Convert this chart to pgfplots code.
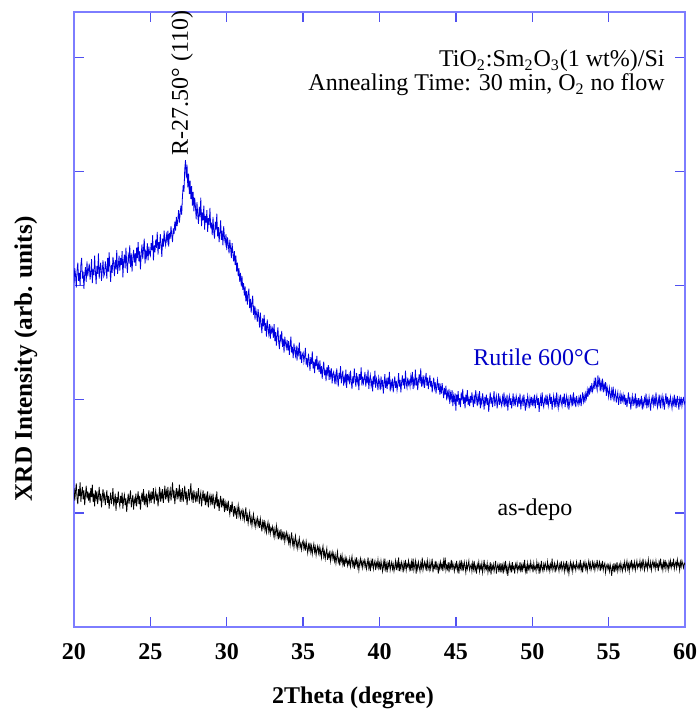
\documentclass[border=0pt]{standalone}
\usepackage{fontspec}
\setmainfont{Liberation Serif}
\usepackage{pgfplots}
\pgfplotsset{compat=1.18}
\definecolor{framecol}{RGB}{125,125,255}
\definecolor{tickcol}{RGB}{80,80,240}
\definecolor{curveblue}{RGB}{0,0,225}
\definecolor{textblue}{RGB}{0,0,200}
\begin{document}
\begin{tikzpicture}
\begin{axis}[
  scale only axis, width=305.5pt, height=307.5pt,
  xmin=20, xmax=60, ymin=0, ymax=5.4,
  xtick={20,25,30,35,40,45,50,55,60},
  xticklabels={20,25,30,35,40,45,50,55,60},
  ytick={1,2,3,4,5}, yticklabels={},
  tick pos=both, tick align=inside,
  major tick length=4.8pt,
  axis line style={draw=framecol, line width=1pt},
  tick style={draw=tickcol, line width=0.7pt},
  xticklabel style={font=\bfseries\fontsize{12}{14}\selectfont, inner sep=0pt, anchor=north, yshift=-8pt},
  xlabel={2Theta (degree)},
  ylabel={XRD Intensity (arb. units)},
  xlabel style={font=\bfseries\fontsize{12}{14}\selectfont, at={(axis description cs:0.4566,-0.1252)}, anchor=base},
  ylabel style={font=\bfseries\fontsize{12.6}{14}\selectfont, at={(axis description cs:-0.0786,0.436)}, anchor=center},
  clip=true,
]
% Rutile 600 C
\addplot[curveblue, line width=0.4pt] coordinates {
(20.00,3.02)(20.05,3.15)(20.10,3.09)(20.15,2.98)(20.20,3.13)(20.25,3.20)(20.30,3.04)(20.35,3.11)(20.40,3.00)(20.45,3.18)(20.50,3.24)(20.55,3.06)(20.60,3.12)(20.65,2.97)(20.70,3.10)(20.75,3.16)(20.80,3.03)(20.85,3.21)(20.90,3.08)(20.95,3.14)
(21.00,3.19)(21.05,3.05)(21.10,3.11)(21.15,3.23)(21.20,3.02)(21.25,3.14)(21.30,3.09)(21.35,3.26)(21.40,3.12)(21.45,3.01)(21.50,3.17)(21.55,3.10)(21.60,3.28)(21.65,3.06)(21.70,3.15)(21.75,3.20)(21.80,3.04)(21.85,3.13)(21.90,3.22)(21.95,3.08)
(22.00,3.10)(22.05,3.21)(22.10,3.15)(22.15,3.06)(22.20,3.24)(22.25,3.12)(22.30,3.29)(22.35,3.16)(22.40,3.03)(22.45,3.18)(22.50,3.11)(22.55,3.25)(22.60,3.19)(22.65,3.08)(22.70,3.22)(22.75,3.14)(22.80,3.31)(22.85,3.10)(22.90,3.17)(22.95,3.26)
(23.00,3.13)(23.05,3.24)(23.10,3.18)(23.15,3.30)(23.20,3.07)(23.25,3.21)(23.30,3.27)(23.35,3.15)(23.40,3.33)(23.45,3.19)(23.50,3.11)(23.55,3.26)(23.60,3.22)(23.65,3.35)(23.70,3.16)(23.75,3.28)(23.80,3.12)(23.85,3.24)(23.90,3.31)(23.95,3.20)
(24.00,3.28)(24.05,3.17)(24.10,3.33)(24.15,3.24)(24.20,3.38)(24.25,3.21)(24.30,3.30)(24.35,3.14)(24.40,3.27)(24.45,3.36)(24.50,3.23)(24.55,3.32)(24.60,3.41)(24.65,3.19)(24.70,3.29)(24.75,3.25)(24.80,3.37)(24.85,3.22)(24.90,3.34)(24.95,3.28)
(25.00,3.26)(25.05,3.37)(25.10,3.31)(25.15,3.44)(25.20,3.22)(25.25,3.35)(25.30,3.29)(25.35,3.40)(25.40,3.33)(25.45,3.47)(25.50,3.27)(25.55,3.38)(25.60,3.32)(25.65,3.45)(25.70,3.36)(25.75,3.25)(25.80,3.41)(25.85,3.34)(25.90,3.48)(25.95,3.39)
(26.00,3.35)(26.05,3.44)(26.10,3.39)(26.15,3.48)(26.20,3.34)(26.25,3.46)(26.30,3.41)(26.35,3.52)(26.40,3.44)(26.45,3.38)(26.50,3.50)(26.55,3.45)(26.60,3.56)(26.65,3.48)(26.70,3.60)(26.75,3.52)(26.80,3.58)(26.85,3.66)(26.90,3.55)(26.95,3.63)
(27.00,3.70)(27.05,3.62)(27.10,3.78)(27.15,3.88)(27.20,3.82)(27.25,4.02)(27.30,4.10)(27.35,3.94)(27.40,4.06)(27.45,3.86)(27.50,3.98)(27.55,3.80)(27.60,3.92)(27.65,3.76)(27.70,3.87)(27.75,3.70)(27.80,3.82)(27.85,3.65)(27.90,3.77)(27.95,3.69)
(28.00,3.58)(28.05,3.73)(28.10,3.62)(28.15,3.54)(28.20,3.69)(28.25,3.60)(28.30,3.77)(28.35,3.52)(28.40,3.64)(28.45,3.57)(28.50,3.70)(28.55,3.49)(28.60,3.61)(28.65,3.55)(28.70,3.66)(28.75,3.47)(28.80,3.59)(28.85,3.53)(28.90,3.68)(28.95,3.50)
(29.00,3.55)(29.05,3.44)(29.10,3.60)(29.15,3.47)(29.20,3.41)(29.25,3.56)(29.30,3.49)(29.35,3.63)(29.40,3.43)(29.45,3.51)(29.50,3.38)(29.55,3.46)(29.60,3.57)(29.65,3.40)(29.70,3.48)(29.75,3.35)(29.80,3.52)(29.85,3.42)(29.90,3.37)(29.95,3.45)
(30.00,3.31)(30.05,3.42)(30.10,3.36)(30.15,3.28)(30.20,3.40)(30.25,3.33)(30.30,3.24)(30.35,3.37)(30.40,3.29)(30.45,3.21)(30.50,3.30)(30.55,3.18)(30.60,3.26)(30.65,3.12)(30.70,3.20)(30.75,3.08)(30.80,3.15)(30.85,3.03)(30.90,3.11)(30.95,2.99)
(31.00,3.08)(31.05,2.96)(31.10,3.02)(31.15,2.91)(31.20,2.99)(31.25,2.86)(31.30,2.95)(31.35,2.83)(31.40,2.92)(31.45,2.97)(31.50,2.80)(31.55,2.88)(31.60,2.76)(31.65,2.85)(31.70,2.91)(31.75,2.74)(31.80,2.82)(31.85,2.70)(31.90,2.79)(31.95,2.75)
(32.00,2.68)(32.05,2.79)(32.10,2.72)(32.15,2.63)(32.20,2.76)(32.25,2.66)(32.30,2.58)(32.35,2.71)(32.40,2.64)(32.45,2.74)(32.50,2.60)(32.55,2.67)(32.60,2.55)(32.65,2.70)(32.70,2.62)(32.75,2.57)(32.80,2.66)(32.85,2.53)(32.90,2.63)(32.95,2.59)
(33.00,2.62)(33.05,2.54)(33.10,2.66)(33.15,2.51)(33.20,2.59)(33.25,2.47)(33.30,2.56)(33.35,2.63)(33.40,2.50)(33.45,2.44)(33.50,2.57)(33.55,2.52)(33.60,2.60)(33.65,2.46)(33.70,2.53)(33.75,2.41)(33.80,2.55)(33.85,2.49)(33.90,2.45)(33.95,2.52)
(34.00,2.43)(34.05,2.51)(34.10,2.39)(34.15,2.47)(34.20,2.55)(34.25,2.41)(34.30,2.46)(34.35,2.36)(34.40,2.49)(34.45,2.42)(34.50,2.38)(34.55,2.47)(34.60,2.34)(34.65,2.44)(34.70,2.40)(34.75,2.50)(34.80,2.35)(34.85,2.42)(34.90,2.32)(34.95,2.39)
(35.00,2.41)(35.05,2.33)(35.10,2.38)(35.15,2.45)(35.20,2.30)(35.25,2.36)(35.30,2.28)(35.35,2.40)(35.40,2.34)(35.45,2.25)(35.50,2.37)(35.55,2.31)(35.60,2.42)(35.65,2.27)(35.70,2.33)(35.75,2.23)(35.80,2.35)(35.85,2.29)(35.90,2.38)(35.95,2.26)
(36.00,2.31)(36.05,2.24)(36.10,2.34)(36.15,2.22)(36.20,2.29)(36.25,2.18)(36.30,2.27)(36.35,2.33)(36.40,2.21)(36.45,2.26)(36.50,2.16)(36.55,2.28)(36.60,2.23)(36.65,2.30)(36.70,2.17)(36.75,2.25)(36.80,2.20)(36.85,2.27)(36.90,2.14)(36.95,2.22)
(37.00,2.24)(37.05,2.16)(37.10,2.21)(37.15,2.13)(37.20,2.27)(37.25,2.19)(37.30,2.11)(37.35,2.23)(37.40,2.18)(37.45,2.29)(37.50,2.14)(37.55,2.20)(37.60,2.25)(37.65,2.12)(37.70,2.19)(37.75,2.15)(37.80,2.26)(37.85,2.10)(37.90,2.22)(37.95,2.17)
(38.00,2.21)(38.05,2.13)(38.10,2.25)(38.15,2.16)(38.20,2.09)(38.25,2.20)(38.30,2.14)(38.35,2.27)(38.40,2.18)(38.45,2.11)(38.50,2.23)(38.55,2.15)(38.60,2.19)(38.65,2.08)(38.70,2.22)(38.75,2.17)(38.80,2.28)(38.85,2.12)(38.90,2.20)(38.95,2.14)
(39.00,2.18)(39.05,2.24)(39.10,2.11)(39.15,2.19)(39.20,2.14)(39.25,2.26)(39.30,2.09)(39.35,2.17)(39.40,2.21)(39.45,2.12)(39.50,2.16)(39.55,2.07)(39.60,2.20)(39.65,2.13)(39.70,2.25)(39.75,2.10)(39.80,2.18)(39.85,2.15)(39.90,2.08)(39.95,2.19)
(40.00,2.15)(40.05,2.08)(40.10,2.20)(40.15,2.12)(40.20,2.17)(40.25,2.05)(40.30,2.14)(40.35,2.22)(40.40,2.10)(40.45,2.16)(40.50,2.09)(40.55,2.19)(40.60,2.13)(40.65,2.24)(40.70,2.07)(40.75,2.15)(40.80,2.11)(40.85,2.18)(40.90,2.06)(40.95,2.14)
(41.00,2.20)(41.05,2.10)(41.10,2.16)(41.15,2.08)(41.20,2.13)(41.25,2.23)(41.30,2.11)(41.35,2.17)(41.40,2.06)(41.45,2.15)(41.50,2.21)(41.55,2.12)(41.60,2.18)(41.65,2.09)(41.70,2.25)(41.75,2.14)(41.80,2.10)(41.85,2.19)(41.90,2.13)(41.95,2.16)
(42.00,2.11)(42.05,2.20)(42.10,2.15)(42.15,2.24)(42.20,2.09)(42.25,2.17)(42.30,2.13)(42.35,2.26)(42.40,2.12)(42.45,2.19)(42.50,2.08)(42.55,2.16)(42.60,2.22)(42.65,2.14)(42.70,2.27)(42.75,2.11)(42.80,2.18)(42.85,2.13)(42.90,2.21)(42.95,2.10)
(43.00,2.17)(43.05,2.23)(43.10,2.12)(43.15,2.19)(43.20,2.09)(43.25,2.15)(43.30,2.21)(43.35,2.11)(43.40,2.16)(43.45,2.06)(43.50,2.13)(43.55,2.19)(43.60,2.10)(43.65,2.15)(43.70,2.05)(43.75,2.12)(43.80,2.17)(43.85,2.08)(43.90,2.14)(43.95,2.04)
(44.00,2.11)(44.05,2.05)(44.10,2.14)(44.15,2.08)(44.20,2.01)(44.25,2.10)(44.30,2.04)(44.35,2.12)(44.40,1.99)(44.45,2.06)(44.50,2.02)(44.55,2.09)(44.60,1.96)(44.65,2.05)(44.70,2.00)(44.75,2.08)(44.80,1.94)(44.85,2.03)(44.90,1.98)(44.95,2.05)
(45.00,1.90)(45.05,2.04)(45.10,1.98)(45.15,2.07)(45.20,1.95)(45.25,2.01)(45.30,1.93)(45.35,2.06)(45.40,1.99)(45.45,2.09)(45.50,1.96)(45.55,2.02)(45.60,1.92)(45.65,2.04)(45.70,1.98)(45.75,2.08)(45.80,1.95)(45.85,2.00)(45.90,1.94)(45.95,2.03)
(46.00,1.97)(46.05,2.06)(46.10,1.99)(46.15,1.93)(46.20,2.04)(46.25,1.96)(46.30,2.08)(46.35,2.01)(46.40,1.94)(46.45,2.03)(46.50,1.98)(46.55,2.07)(46.60,1.92)(46.65,2.00)(46.70,1.96)(46.75,2.05)(46.80,1.99)(46.85,1.91)(46.90,2.02)(46.95,1.97)
(47.00,2.04)(47.05,1.95)(47.10,2.01)(47.15,1.89)(47.20,1.98)(47.25,2.06)(47.30,1.96)(47.35,2.02)(47.40,1.93)(47.45,2.00)(47.50,2.07)(47.55,1.94)(47.60,1.99)(47.65,2.03)(47.70,1.92)(47.75,1.98)(47.80,2.05)(47.85,1.95)(47.90,2.01)(47.95,1.97)
(48.00,1.94)(48.05,2.02)(48.10,1.97)(48.15,2.06)(48.20,1.93)(48.25,2.00)(48.30,1.96)(48.35,2.04)(48.40,1.90)(48.45,1.99)(48.50,2.03)(48.55,1.95)(48.60,2.01)(48.65,1.92)(48.70,1.98)(48.75,2.05)(48.80,1.94)(48.85,2.00)(48.90,1.96)(48.95,2.03)
(49.00,1.99)(49.05,1.93)(49.10,2.02)(49.15,1.96)(49.20,2.05)(49.25,1.91)(49.30,1.98)(49.35,2.01)(49.40,1.94)(49.45,2.04)(49.50,1.97)(49.55,1.90)(49.60,2.00)(49.65,1.95)(49.70,2.03)(49.75,1.98)(49.80,1.92)(49.85,2.01)(49.90,1.96)(49.95,2.02)
(50.00,1.94)(50.05,2.00)(50.10,1.96)(50.15,2.04)(50.20,1.92)(50.25,1.99)(50.30,2.03)(50.35,1.95)(50.40,2.01)(50.45,1.89)(50.50,1.97)(50.55,2.02)(50.60,1.94)(50.65,2.06)(50.70,1.96)(50.75,1.93)(50.80,2.00)(50.85,1.97)(50.90,2.04)(50.95,1.95)
(51.00,2.01)(51.05,1.94)(51.10,1.99)(51.15,2.05)(51.20,1.96)(51.25,2.02)(51.30,1.91)(51.35,1.98)(51.40,2.03)(51.45,1.95)(51.50,2.00)(51.55,1.93)(51.60,2.06)(51.65,1.97)(51.70,1.92)(51.75,2.01)(51.80,1.96)(51.85,2.04)(51.90,1.98)(51.95,1.94)
(52.00,2.02)(52.05,1.96)(52.10,2.05)(52.15,1.93)(52.20,1.99)(52.25,2.03)(52.30,1.95)(52.35,2.00)(52.40,1.91)(52.45,1.98)(52.50,2.04)(52.55,1.96)(52.60,2.01)(52.65,1.94)(52.70,2.06)(52.75,1.97)(52.80,2.00)(52.85,1.93)(52.90,2.03)(52.95,1.98)
(53.00,1.95)(53.05,2.01)(53.10,1.97)(53.15,2.04)(53.20,1.94)(53.25,2.00)(53.30,2.06)(53.35,1.98)(53.40,2.03)(53.45,1.97)(53.50,2.05)(53.55,2.01)(53.60,2.08)(53.65,2.02)(53.70,2.10)(53.75,2.04)(53.80,2.12)(53.85,2.06)(53.90,2.14)(53.95,2.07)
(54.00,2.10)(54.05,2.16)(54.10,2.09)(54.15,2.19)(54.20,2.12)(54.25,2.08)(54.30,2.21)(54.35,2.13)(54.40,2.17)(54.45,2.07)(54.50,2.15)(54.55,2.10)(54.60,2.18)(54.65,2.06)(54.70,2.13)(54.75,2.09)(54.80,2.15)(54.85,2.03)(54.90,2.11)(54.95,2.07)
(55.00,2.02)(55.05,2.10)(55.10,2.05)(55.15,1.99)(55.20,2.08)(55.25,2.03)(55.30,2.11)(55.35,1.98)(55.40,2.04)(55.45,2.07)(55.50,1.97)(55.55,2.02)(55.60,2.06)(55.65,1.95)(55.70,2.01)(55.75,2.05)(55.80,1.96)(55.85,2.03)(55.90,1.99)(55.95,2.04)
(56.00,1.98)(56.05,2.04)(56.10,1.95)(56.15,2.01)(56.20,1.93)(56.25,2.00)(56.30,2.06)(56.35,1.96)(56.40,2.02)(56.45,1.91)(56.50,1.98)(56.55,2.03)(56.60,1.94)(56.65,2.00)(56.70,1.97)(56.75,2.05)(56.80,1.92)(56.85,1.99)(56.90,1.95)(56.95,2.01)
(57.00,1.93)(57.05,1.99)(57.10,1.96)(57.15,2.03)(57.20,1.91)(57.25,1.98)(57.30,1.94)(57.35,2.01)(57.40,1.97)(57.45,2.05)(57.50,1.92)(57.55,1.99)(57.60,1.95)(57.65,2.02)(57.70,1.96)(57.75,1.90)(57.80,2.00)(57.85,1.97)(57.90,2.04)(57.95,1.95)
(58.00,2.00)(58.05,1.94)(58.10,2.06)(58.15,1.97)(58.20,1.93)(58.25,2.01)(58.30,1.96)(58.35,2.04)(58.40,1.92)(58.45,1.99)(58.50,2.03)(58.55,1.95)(58.60,2.00)(58.65,1.91)(58.70,1.98)(58.75,2.05)(58.80,1.96)(58.85,2.02)(58.90,1.94)(58.95,1.99)
(59.00,1.95)(59.05,2.02)(59.10,1.97)(59.15,1.92)(59.20,2.00)(59.25,1.96)(59.30,2.04)(59.35,1.93)(59.40,1.99)(59.45,1.95)(59.50,2.03)(59.55,1.97)(59.60,1.91)(59.65,2.00)(59.70,1.96)(59.75,2.02)(59.80,1.94)(59.85,1.99)(59.90,2.01)(59.95,1.96)
(60.00,1.98)
};
% as-depo
\addplot[black, line width=0.4pt] coordinates {
(20.00,1.22)(20.05,1.11)(20.10,1.19)(20.15,1.26)(20.20,1.13)(20.25,1.08)(20.30,1.21)(20.35,1.15)(20.40,1.27)(20.45,1.10)(20.50,1.18)(20.55,1.23)(20.60,1.12)(20.65,1.20)(20.70,1.07)(20.75,1.16)(20.80,1.24)(20.85,1.13)(20.90,1.19)(20.95,1.11)
(21.00,1.18)(21.05,1.09)(21.10,1.22)(21.15,1.14)(21.20,1.25)(21.25,1.10)(21.30,1.17)(21.35,1.06)(21.40,1.20)(21.45,1.13)(21.50,1.19)(21.55,1.08)(21.60,1.15)(21.65,1.23)(21.70,1.11)(21.75,1.17)(21.80,1.05)(21.85,1.14)(21.90,1.21)(21.95,1.12)
(22.00,1.16)(22.05,1.07)(22.10,1.14)(22.15,1.20)(22.20,1.09)(22.25,1.15)(22.30,1.04)(22.35,1.12)(22.40,1.18)(22.45,1.08)(22.50,1.13)(22.55,1.22)(22.60,1.06)(22.65,1.11)(22.70,1.17)(22.75,1.02)(22.80,1.14)(22.85,1.09)(22.90,1.19)(22.95,1.10)
(23.00,1.06)(23.05,1.15)(23.10,1.09)(23.15,1.18)(23.20,1.04)(23.25,1.12)(23.30,1.16)(23.35,1.07)(23.40,1.13)(23.45,1.01)(23.50,1.10)(23.55,1.17)(23.60,1.08)(23.65,1.14)(23.70,1.20)(23.75,1.05)(23.80,1.11)(23.85,1.16)(23.90,1.03)(23.95,1.12)
(24.00,1.09)(24.05,1.17)(24.10,1.06)(24.15,1.13)(24.20,1.19)(24.25,1.08)(24.30,1.15)(24.35,1.03)(24.40,1.12)(24.45,1.18)(24.50,1.10)(24.55,1.21)(24.60,1.07)(24.65,1.14)(24.70,1.09)(24.75,1.17)(24.80,1.05)(24.85,1.13)(24.90,1.20)(24.95,1.11)
(25.00,1.16)(25.05,1.09)(25.10,1.19)(25.15,1.12)(25.20,1.22)(25.25,1.08)(25.30,1.15)(25.35,1.20)(25.40,1.11)(25.45,1.17)(25.50,1.06)(25.55,1.14)(25.60,1.23)(25.65,1.10)(25.70,1.18)(25.75,1.13)(25.80,1.21)(25.85,1.09)(25.90,1.16)(25.95,1.24)
(26.00,1.12)(26.05,1.19)(26.10,1.14)(26.15,1.23)(26.20,1.09)(26.25,1.17)(26.30,1.21)(26.35,1.11)(26.40,1.18)(26.45,1.27)(26.50,1.13)(26.55,1.20)(26.60,1.08)(26.65,1.16)(26.70,1.22)(26.75,1.12)(26.80,1.19)(26.85,1.15)(26.90,1.25)(26.95,1.10)
(27.00,1.18)(27.05,1.13)(27.10,1.22)(27.15,1.10)(27.20,1.16)(27.25,1.24)(27.30,1.12)(27.35,1.19)(27.40,1.07)(27.45,1.15)(27.50,1.21)(27.55,1.11)(27.60,1.18)(27.65,1.26)(27.70,1.13)(27.75,1.17)(27.80,1.09)(27.85,1.20)(27.90,1.14)(27.95,1.11)
(28.00,1.19)(28.05,1.10)(28.10,1.16)(28.15,1.22)(28.20,1.08)(28.25,1.14)(28.30,1.18)(28.35,1.06)(28.40,1.13)(28.45,1.20)(28.50,1.11)(28.55,1.17)(28.60,1.07)(28.65,1.15)(28.70,1.10)(28.75,1.19)(28.80,1.05)(28.85,1.13)(28.90,1.16)(28.95,1.09)
(29.00,1.14)(29.05,1.07)(29.10,1.17)(29.15,1.10)(29.20,1.04)(29.25,1.13)(29.30,1.09)(29.35,1.19)(29.40,1.06)(29.45,1.12)(29.50,1.02)(29.55,1.10)(29.60,1.15)(29.65,1.05)(29.70,1.11)(29.75,1.07)(29.80,1.13)(29.85,1.01)(29.90,1.09)(29.95,1.04)
(30.00,1.08)(30.05,1.02)(30.10,1.11)(30.15,1.04)(30.20,0.99)(30.25,1.07)(30.30,1.01)(30.35,1.10)(30.40,1.03)(30.45,0.97)(30.50,1.06)(30.55,1.00)(30.60,1.04)(30.65,0.95)(30.70,1.02)(30.75,1.07)(30.80,0.98)(30.85,1.03)(30.90,0.96)(30.95,1.01)
(31.00,1.03)(31.05,0.96)(31.10,1.01)(31.15,0.94)(31.20,0.99)(31.25,1.05)(31.30,0.93)(31.35,0.98)(31.40,0.91)(31.45,0.97)(31.50,1.01)(31.55,0.92)(31.60,0.96)(31.65,0.89)(31.70,0.95)(31.75,0.99)(31.80,0.90)(31.85,0.94)(31.90,0.88)(31.95,0.93)
(32.00,0.96)(32.05,0.89)(32.10,0.93)(32.15,0.87)(32.20,0.95)(32.25,0.90)(32.30,0.84)(32.35,0.92)(32.40,0.88)(32.45,0.94)(32.50,0.85)(32.55,0.90)(32.60,0.83)(32.65,0.88)(32.70,0.92)(32.75,0.84)(32.80,0.89)(32.85,0.82)(32.90,0.87)(32.95,0.85)
(33.00,0.88)(33.05,0.81)(33.10,0.86)(33.15,0.79)(33.20,0.84)(33.25,0.89)(33.30,0.80)(33.35,0.85)(33.40,0.77)(33.45,0.83)(33.50,0.79)(33.55,0.86)(33.60,0.76)(33.65,0.82)(33.70,0.78)(33.75,0.84)(33.80,0.75)(33.85,0.80)(33.90,0.83)(33.95,0.77)
(34.00,0.81)(34.05,0.74)(34.10,0.79)(34.15,0.72)(34.20,0.78)(34.25,0.83)(34.30,0.73)(34.35,0.77)(34.40,0.70)(34.45,0.76)(34.50,0.80)(34.55,0.71)(34.60,0.75)(34.65,0.69)(34.70,0.74)(34.75,0.78)(34.80,0.70)(34.85,0.73)(34.90,0.68)(34.95,0.74)
(35.00,0.76)(35.05,0.69)(35.10,0.73)(35.15,0.67)(35.20,0.75)(35.25,0.70)(35.30,0.65)(35.35,0.72)(35.40,0.68)(35.45,0.74)(35.50,0.66)(35.55,0.71)(35.60,0.64)(35.65,0.69)(35.70,0.73)(35.75,0.66)(35.80,0.70)(35.85,0.63)(35.90,0.68)(35.95,0.71)
(36.00,0.65)(36.05,0.70)(36.10,0.64)(36.15,0.68)(36.20,0.61)(36.25,0.67)(36.30,0.71)(36.35,0.62)(36.40,0.66)(36.45,0.60)(36.50,0.65)(36.55,0.69)(36.60,0.59)(36.65,0.64)(36.70,0.61)(36.75,0.67)(36.80,0.58)(36.85,0.63)(36.90,0.66)(36.95,0.60)
(37.00,0.64)(37.05,0.58)(37.10,0.63)(37.15,0.56)(37.20,0.61)(37.25,0.66)(37.30,0.57)(37.35,0.60)(37.40,0.54)(37.45,0.62)(37.50,0.58)(37.55,0.63)(37.60,0.55)(37.65,0.59)(37.70,0.53)(37.75,0.61)(37.80,0.57)(37.85,0.60)(37.90,0.54)(37.95,0.58)
(38.00,0.55)(38.05,0.60)(38.10,0.53)(38.15,0.58)(38.20,0.62)(38.25,0.54)(38.30,0.57)(38.35,0.51)(38.40,0.59)(38.45,0.55)(38.50,0.61)(38.55,0.53)(38.60,0.57)(38.65,0.50)(38.70,0.56)(38.75,0.60)(38.80,0.54)(38.85,0.58)(38.90,0.52)(38.95,0.57)
(39.00,0.59)(39.05,0.53)(39.10,0.57)(39.15,0.51)(39.20,0.55)(39.25,0.61)(39.30,0.52)(39.35,0.56)(39.40,0.49)(39.45,0.58)(39.50,0.54)(39.55,0.60)(39.60,0.51)(39.65,0.55)(39.70,0.58)(39.75,0.50)(39.80,0.56)(39.85,0.53)(39.90,0.59)(39.95,0.52)
(40.00,0.56)(40.05,0.50)(40.10,0.58)(40.15,0.53)(40.20,0.49)(40.25,0.57)(40.30,0.52)(40.35,0.60)(40.40,0.51)(40.45,0.55)(40.50,0.48)(40.55,0.56)(40.60,0.53)(40.65,0.59)(40.70,0.50)(40.75,0.54)(40.80,0.57)(40.85,0.51)(40.90,0.55)(40.95,0.49)
(41.00,0.53)(41.05,0.58)(41.10,0.50)(41.15,0.56)(41.20,0.52)(41.25,0.61)(41.30,0.49)(41.35,0.55)(41.40,0.51)(41.45,0.57)(41.50,0.54)(41.55,0.48)(41.60,0.56)(41.65,0.52)(41.70,0.59)(41.75,0.50)(41.80,0.55)(41.85,0.53)(41.90,0.58)(41.95,0.51)
(42.00,0.55)(42.05,0.49)(42.10,0.57)(42.15,0.52)(42.20,0.60)(42.25,0.50)(42.30,0.54)(42.35,0.58)(42.40,0.47)(42.45,0.55)(42.50,0.51)(42.55,0.57)(42.60,0.53)(42.65,0.49)(42.70,0.56)(42.75,0.52)(42.80,0.61)(42.85,0.50)(42.90,0.54)(42.95,0.57)
(43.00,0.52)(43.05,0.56)(43.10,0.49)(43.15,0.58)(43.20,0.53)(43.25,0.50)(43.30,0.57)(43.35,0.51)(43.40,0.55)(43.45,0.60)(43.50,0.48)(43.55,0.54)(43.60,0.52)(43.65,0.58)(43.70,0.50)(43.75,0.56)(43.80,0.53)(43.85,0.47)(43.90,0.55)(43.95,0.51)
(44.00,0.57)(44.05,0.52)(44.10,0.55)(44.15,0.49)(44.20,0.58)(44.25,0.53)(44.30,0.61)(44.35,0.50)(44.40,0.54)(44.45,0.51)(44.50,0.57)(44.55,0.48)(44.60,0.55)(44.65,0.52)(44.70,0.59)(44.75,0.50)(44.80,0.56)(44.85,0.53)(44.90,0.49)(44.95,0.55)
(45.00,0.52)(45.05,0.58)(45.10,0.50)(45.15,0.54)(45.20,0.47)(45.25,0.56)(45.30,0.52)(45.35,0.59)(45.40,0.49)(45.45,0.55)(45.50,0.51)(45.55,0.57)(45.60,0.53)(45.65,0.48)(45.70,0.56)(45.75,0.51)(45.80,0.54)(45.85,0.58)(45.90,0.50)(45.95,0.53)
(46.00,0.55)(46.05,0.49)(46.10,0.56)(46.15,0.51)(46.20,0.58)(46.25,0.50)(46.30,0.53)(46.35,0.47)(46.40,0.55)(46.45,0.52)(46.50,0.57)(46.55,0.49)(46.60,0.54)(46.65,0.51)(46.70,0.56)(46.75,0.48)(46.80,0.53)(46.85,0.59)(46.90,0.50)(46.95,0.54)
(47.00,0.51)(47.05,0.56)(47.10,0.48)(47.15,0.53)(47.20,0.50)(47.25,0.57)(47.30,0.46)(47.35,0.54)(47.40,0.51)(47.45,0.55)(47.50,0.49)(47.55,0.53)(47.60,0.58)(47.65,0.47)(47.70,0.52)(47.75,0.55)(47.80,0.50)(47.85,0.54)(47.90,0.48)(47.95,0.56)
(48.00,0.50)(48.05,0.54)(48.10,0.47)(48.15,0.55)(48.20,0.51)(48.25,0.58)(48.30,0.49)(48.35,0.53)(48.40,0.45)(48.45,0.52)(48.50,0.56)(48.55,0.50)(48.60,0.54)(48.65,0.48)(48.70,0.57)(48.75,0.51)(48.80,0.53)(48.85,0.47)(48.90,0.55)(48.95,0.52)
(49.00,0.56)(49.05,0.49)(49.10,0.53)(49.15,0.51)(49.20,0.57)(49.25,0.48)(49.30,0.54)(49.35,0.50)(49.40,0.55)(49.45,0.52)(49.50,0.59)(49.55,0.49)(49.60,0.53)(49.65,0.47)(49.70,0.56)(49.75,0.51)(49.80,0.54)(49.85,0.50)(49.90,0.57)(49.95,0.52)
(50.00,0.54)(50.05,0.48)(50.10,0.56)(50.15,0.51)(50.20,0.53)(50.25,0.49)(50.30,0.57)(50.35,0.52)(50.40,0.55)(50.45,0.47)(50.50,0.54)(50.55,0.50)(50.60,0.58)(50.65,0.52)(50.70,0.49)(50.75,0.55)(50.80,0.51)(50.85,0.56)(50.90,0.53)(50.95,0.50)
(51.00,0.57)(51.05,0.51)(51.10,0.54)(51.15,0.49)(51.20,0.55)(51.25,0.52)(51.30,0.60)(51.35,0.50)(51.40,0.53)(51.45,0.56)(51.50,0.48)(51.55,0.54)(51.60,0.51)(51.65,0.57)(51.70,0.53)(51.75,0.49)(51.80,0.55)(51.85,0.52)(51.90,0.58)(51.95,0.50)
(52.00,0.53)(52.05,0.56)(52.10,0.49)(52.15,0.55)(52.20,0.51)(52.25,0.58)(52.30,0.50)(52.35,0.54)(52.40,0.47)(52.45,0.53)(52.50,0.57)(52.55,0.51)(52.60,0.55)(52.65,0.49)(52.70,0.56)(52.75,0.52)(52.80,0.54)(52.85,0.50)(52.90,0.57)(52.95,0.53)
(53.00,0.51)(53.05,0.55)(53.10,0.52)(53.15,0.59)(53.20,0.50)(53.25,0.54)(53.30,0.48)(53.35,0.56)(53.40,0.53)(53.45,0.57)(53.50,0.51)(53.55,0.55)(53.60,0.49)(53.65,0.54)(53.70,0.58)(53.75,0.52)(53.80,0.56)(53.85,0.50)(53.90,0.53)(53.95,0.57)
(54.00,0.52)(54.05,0.56)(54.10,0.50)(54.15,0.55)(54.20,0.53)(54.25,0.59)(54.30,0.51)(54.35,0.54)(54.40,0.57)(54.45,0.49)(54.50,0.55)(54.55,0.52)(54.60,0.58)(54.65,0.50)(54.70,0.54)(54.75,0.56)(54.80,0.48)(54.85,0.53)(54.90,0.55)(54.95,0.51)
(55.00,0.54)(55.05,0.49)(55.10,0.55)(55.15,0.51)(55.20,0.45)(55.25,0.53)(55.30,0.50)(55.35,0.56)(55.40,0.48)(55.45,0.54)(55.50,0.51)(55.55,0.57)(55.60,0.49)(55.65,0.53)(55.70,0.55)(55.75,0.50)(55.80,0.56)(55.85,0.52)(55.90,0.49)(55.95,0.55)
(56.00,0.52)(56.05,0.57)(56.10,0.50)(56.15,0.54)(56.20,0.58)(56.25,0.51)(56.30,0.55)(56.35,0.49)(56.40,0.56)(56.45,0.53)(56.50,0.59)(56.55,0.51)(56.60,0.55)(56.65,0.52)(56.70,0.57)(56.75,0.50)(56.80,0.54)(56.85,0.58)(56.90,0.52)(56.95,0.55)
(57.00,0.53)(57.05,0.58)(57.10,0.51)(57.15,0.56)(57.20,0.52)(57.25,0.60)(57.30,0.54)(57.35,0.50)(57.40,0.57)(57.45,0.53)(57.50,0.56)(57.55,0.51)(57.60,0.59)(57.65,0.54)(57.70,0.52)(57.75,0.57)(57.80,0.50)(57.85,0.55)(57.90,0.58)(57.95,0.53)
(58.00,0.56)(58.05,0.51)(58.10,0.58)(58.15,0.53)(58.20,0.55)(58.25,0.49)(58.30,0.57)(58.35,0.54)(58.40,0.60)(58.45,0.52)(58.50,0.55)(58.55,0.50)(58.60,0.57)(58.65,0.53)(58.70,0.59)(58.75,0.51)(58.80,0.56)(58.85,0.54)(58.90,0.50)(58.95,0.57)
(59.00,0.53)(59.05,0.58)(59.10,0.52)(59.15,0.56)(59.20,0.54)(59.25,0.60)(59.30,0.51)(59.35,0.55)(59.40,0.57)(59.45,0.52)(59.50,0.59)(59.55,0.54)(59.60,0.56)(59.65,0.50)(59.70,0.57)(59.75,0.53)(59.80,0.58)(59.85,0.55)(59.90,0.52)(59.95,0.56)
(60.00,0.55)
};
\node[rotate=90, anchor=west, inner sep=0pt, font=\fontsize{12}{14}\selectfont] at (axis cs:27.07,4.14) {R-27.50° (110)};
\node[anchor=base east, inner sep=0pt, font=\fontsize{12}{14}\selectfont] at (axis cs:58.69,4.92) {TiO\textsubscript{2}:Sm\textsubscript{2}O\textsubscript{3}(1 wt\%)/Si};
\node[anchor=base east, inner sep=0pt, font=\fontsize{12}{14}\selectfont] at (axis cs:58.69,4.71) {Annealing Time: 30 min, O\textsubscript{2} no flow};
\node[anchor=base, inner sep=0pt, text=textblue, font=\fontsize{12}{14}\selectfont] at (axis cs:50.28,2.30) {Rutile 600°C};
\node[anchor=base, inner sep=0pt, font=\fontsize{12}{14}\selectfont] at (axis cs:50.18,0.975) {as-depo};
\end{axis}
\pgfresetboundingbox
\path[use as bounding box] ([xshift=-37pt,yshift=-43pt]current axis.south west) rectangle ([xshift=7.5pt,yshift=6pt]current axis.north east);
\end{tikzpicture}
\end{document}
